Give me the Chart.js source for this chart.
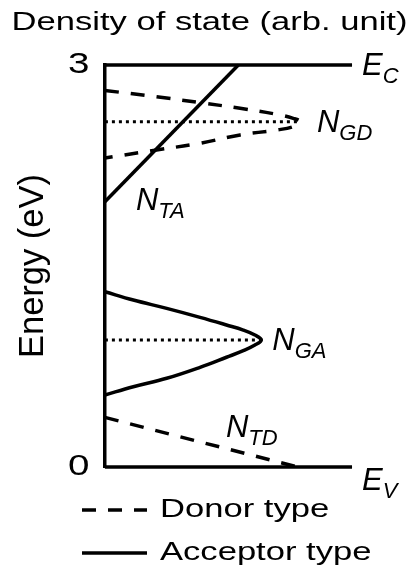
<!DOCTYPE html>
<html>
<head>
<meta charset="utf-8">
<script src="https://cdn.jsdelivr.net/npm/chart.js@4/dist/chart.umd.min.js"></script>
<style>
  html, body { margin: 0; padding: 0; background: #ffffff; }
  canvas { display: block; }
</style>
</head>
<body>
<canvas id="c" width="419" height="574"></canvas>
<script>
// ---------------- data ----------------
const titleText = 'Density of state (arb. unit)';
const yTitleText = 'Energy (eV)';
const yTickValues = [0, 3];
const yTickLabels = ['0', '3'];

// band edges (E_C at 3 eV, E_V at 0 eV)
const bandX = [0, 10];
const ecE = [3, 3];
const evE = [0, 0];

// tail states (straight lines)
const ntaX = [0, 5.4];
const ntaE = [1.98, 3.0];
const ntdX = [0, 7.8];
const ntdE = [0.37, 0];

// Gaussian donor states N_GD
const ngdX = [0, 2.09, 3.85, 5.47, 6.95, 7.62, 7.89, 7.62, 6.95, 5.47, 3.85, 2.09, 0];
const ngdE = [2.81, 2.763, 2.719, 2.677, 2.632, 2.602, 2.577, 2.540, 2.515, 2.478, 2.416, 2.366, 2.306];

// Gaussian acceptor states N_GA
const ngaX = [0, 1.15, 2.50, 3.85, 4.92, 5.60, 6.07, 6.33, 6.07, 5.60, 4.92, 3.85, 2.50, 1.15, 0];
const ngaE = [1.308, 1.246, 1.184, 1.117, 1.060, 1.022, 0.985, 0.948, 0.910, 0.868, 0.819, 0.744, 0.662, 0.599, 0.537];

const legendLabels = ['Donor type', 'Acceptor type'];

// ---------------- helpers ----------------
const FONT = '"Liberation Sans", Arial, Helvetica, sans-serif';
const pts = (xs, ys) => xs.map((v, i) => ({ x: v, y: ys[i] }));
const tipIndex = xs => xs.indexOf(Math.max(...xs));
const gdTip = tipIndex(ngdX);
const gaTip = tipIndex(ngaX);

const LW = 3.5;
const donorDash = [14, 12];
const dotDash = [3, 4];

// wide (horizontally extended) lettering as in the original figure
const S = 1.33;
const canvas = document.getElementById('c');
const ctx = canvas.getContext('2d');
const P = CanvasRenderingContext2D.prototype;
ctx.fillText = function (t, x, y, mw) {
  const m = this.getTransform();
  if (Math.abs(m.b) > 1e-6 || Math.abs(m.c) > 1e-6) {
    return mw === undefined ? P.fillText.call(this, t, x, y) : P.fillText.call(this, t, x, y, mw);
  }
  this.save();
  this.translate(x, y);
  this.scale(S, 1);
  if (mw === undefined) P.fillText.call(this, t, 0, 0); else P.fillText.call(this, t, 0, 0, mw / S);
  this.restore();
};
ctx.measureText = function (t) {
  const m = P.measureText.call(this, t);
  return {
    width: m.width * S,
    actualBoundingBoxAscent: m.actualBoundingBoxAscent,
    actualBoundingBoxDescent: m.actualBoundingBoxDescent,
    actualBoundingBoxLeft: m.actualBoundingBoxLeft * S,
    actualBoundingBoxRight: m.actualBoundingBoxRight * S,
    fontBoundingBoxAscent: m.fontBoundingBoxAscent,
    fontBoundingBoxDescent: m.fontBoundingBoxDescent
  };
};

const line = (data, opts) => Object.assign({
  data, showLine: true, pointRadius: 0, pointHoverRadius: 0,
  borderColor: '#000', backgroundColor: '#000', borderWidth: LW,
  tension: 0, clip: false, fill: false
}, opts);

const datasets = [
  line(pts(bandX, ecE), { label: 'E_C' }),
  line(pts(bandX, evE), { label: 'E_V' }),
  line(pts(ntaX, ntaE), { label: 'N_TA' }),
  line(pts(ngdX, ngdE), { label: 'N_GD', borderDash: donorDash, tension: 0.4 }),
  line(pts(ngaX, ngaE), { label: 'N_GA', tension: 0.4 }),
  line(pts(ntdX, ntdE), { label: 'N_TD', borderDash: donorDash }),
  line([{ x: 0, y: ngdE[gdTip] }, { x: ngdX[gdTip], y: ngdE[gdTip] }], { label: 'GD peak', borderDash: dotDash, borderWidth: 3 }),
  line([{ x: 0, y: ngaE[gaTip] }, { x: ngaX[gaTip], y: ngaE[gaTip] }], { label: 'GA peak', borderDash: dotDash, borderWidth: 3 })
];

// curve labels, anchored to data points, offsets in px
const curveLabels = [
  { ds: 0, pt: 1, main: 'E', sub: 'C', dx: 10, dy: 10 },
  { ds: 1, pt: 1, main: 'E', sub: 'V', dx: 10, dy: 23 },
  { ds: 3, pt: gdTip, main: 'N', sub: 'GD', dx: 17, dy: 10 },
  { ds: 2, pt: 0, main: 'N', sub: 'TA', dx: 31, dy: 8 },
  { ds: 4, pt: gaTip, main: 'N', sub: 'GA', dx: 11, dy: 10 },
  { ds: 5, pt: 0, main: 'N', sub: 'TD', dx: 121, dy: 20 }
];

const labelPlugin = {
  id: 'curveLabels',
  afterDatasetsDraw(chart) {
    const c = chart.ctx;
    c.save();
    c.fillStyle = '#000';
    c.textAlign = 'left';
    c.textBaseline = 'alphabetic';
    curveLabels.forEach(l => {
      const p = chart.getDatasetMeta(l.ds).data[l.pt];
      const x = p.x + l.dx, y = p.y + l.dy;
      c.font = 'italic 31px ' + FONT;
      P.fillText.call(c, l.main, x, y);
      const w = P.measureText.call(c, l.main).width;
      c.font = 'italic 22px ' + FONT;
      P.fillText.call(c, l.sub, x + w, y + 8);
    });
    c.restore();
  }
};

const legendShift = {
  id: 'legendShift',
  afterLayout(chart) {
    const lg = chart.legend;
    if (lg) lg.left = 82 - chart.options.plugins.legend.labels.padding;
  }
};

new Chart(ctx, {
  type: 'scatter',
  data: { datasets },
  options: {
    responsive: false,
    animation: false,
    events: [],
    layout: { padding: { left: 0, right: 0, top: 0, bottom: -2 } },
    scales: {
      x: {
        type: 'linear', min: 0, max: 12.71,
        ticks: { display: false },
        grid: { display: false, drawTicks: true, tickLength: 13 },
        border: { display: false }
      },
      y: {
        type: 'linear', min: 0, max: 3,
        afterBuildTicks: s => { s.ticks = yTickValues.map(v => ({ value: v })); },
        ticks: {
          callback: v => yTickLabels[yTickValues.indexOf(v)],
          font: { size: 29, family: FONT },
          color: '#000',
          padding: 15.5,
          autoSkip: false
        },
        grid: { display: false, drawTicks: false },
        border: { display: true, color: '#000', width: LW },
        title: {
          display: true, text: yTitleText, color: '#000',
          font: { size: 34.5, family: FONT, lineHeight: 1.1 },
          padding: { top: 14.5, bottom: 0 }
        }
      }
    },
    plugins: {
      tooltip: { enabled: false },
      title: {
        display: true, text: titleText, color: '#000',
        font: { size: 26, family: FONT, weight: 'normal', lineHeight: 1.2 },
        padding: { top: 7.5, bottom: 26.3 }
      },
      legend: {
        display: true, position: 'bottom', align: 'start',
        labels: {
          usePointStyle: true, pointStyleWidth: 65, padding: 17,
          color: '#000', font: { size: 26, family: FONT },
          generateLabels: () => legendLabels.map((t, i) => ({
            text: t, fillStyle: '#000', strokeStyle: '#000', fontColor: '#000',
            lineWidth: LW, lineDash: i === 0 ? donorDash : [], lineCap: 'butt',
            pointStyle: 'line', hidden: false, datasetIndex: i === 0 ? 3 : 4
          }))
        }
      }
    }
  },
  plugins: [labelPlugin, legendShift]
});
</script>
</body>
</html>
